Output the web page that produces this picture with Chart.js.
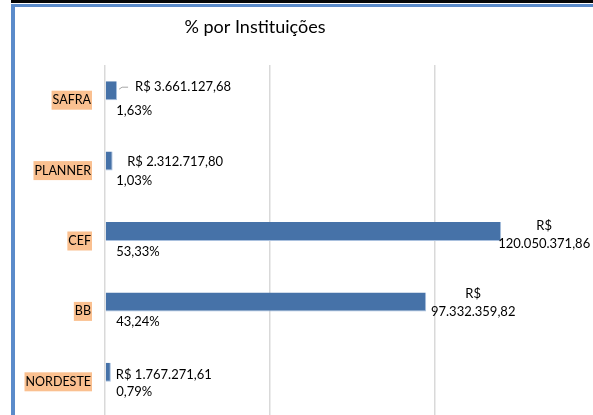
<!DOCTYPE html>
<html>
<head>
<meta charset="utf-8">
<script src="https://cdn.jsdelivr.net/npm/chart.js@4"></script>
<style>
  html,body{margin:0;padding:0;background:#fff;overflow:hidden;width:593px;height:415px;}
  #wrap{position:absolute;left:0;top:0;width:620px;height:440px;}
  .bd{position:absolute;z-index:5;}
</style>
</head>
<body>
<div id="wrap"><canvas id="c"></canvas></div>
<div class="bd" style="left:11px;top:0;right:0;height:3px;background:#050505;"></div>
<div class="bd" style="left:11px;top:4px;right:0;height:3px;background:#5B8BCA;"></div>
<div class="bd" style="left:11px;top:4px;width:4px;bottom:0;background:#5B8BCA;"></div>
<script>
// ---- data ----
const categories = ['SAFRA', 'PLANNER', 'CEF', 'BB', 'NORDESTE'];
const amounts = [3661127.68, 2312717.80, 120050371.86, 97332359.82, 1767271.61];
const percents = [1.63, 1.03, 53.33, 43.24, 0.79];
const axisTicks = [0, 50000000, 100000000, 150000000];
const chartTitle = '% por Instituições';

// ---- label layout (offsets relative to bar end / bar centre) ----
const amountLabelLayout = [
  {align:'left', dx:18, dy:[-3.5], split:false, leader:true},
  {align:'left', dx:14.5, dy:[1], split:false},
  {align:'center', dx:43, dy:[-5.5, 12.5], split:true},
  {align:'center', dx:47, dy:[-8, 10], split:true},
  {align:'left', dx:5, dy:[2.5], split:false}
];

function fmtBRL(v){
  const parts = v.toFixed(2).split('.');
  const intPart = parts[0].replace(/\B(?=(\d{3})+(?!\d))/g, '.');
  return 'R$ ' + intPart + ',' + parts[1];
}
function fmtPct(v){ return v.toFixed(2).replace('.', ',') + '%'; }

const FONT = 'Lato';
Chart.defaults.font.family = FONT;
Chart.defaults.color = '#000';

const labelPlugin = {
  id: 'labels',
  afterDatasetsDraw(chart){
    const ctx = chart.ctx;
    ctx.save();
    ctx.fillStyle = '#000';
    ctx.font = '13px ' + FONT;
    ctx.textBaseline = 'middle';
    const m0 = chart.getDatasetMeta(0);
    m0.data.forEach((bar, i) => {
      const L = amountLabelLayout[i];
      const txt = fmtBRL(amounts[i]);
      const lines = L.split ? ['R$', txt.slice(3)] : [txt];
      ctx.textAlign = L.align;
      lines.forEach((ln, k) => {
        ctx.fillText(ln, bar.x + L.dx, bar.y + L.dy[k]);
      });
      if (L.leader){
        ctx.strokeStyle = '#A6A6A6';
        ctx.lineWidth = 1;
        ctx.beginPath();
        ctx.moveTo(bar.x + 2, bar.y - 1.5);
        ctx.lineTo(bar.x + 5, bar.y - 3.5);
        ctx.lineTo(bar.x + 11, bar.y - 3.5);
        ctx.stroke();
      }
    });
    const m1 = chart.getDatasetMeta(1);
    ctx.textAlign = 'left';
    m1.data.forEach((bar, i) => {
      ctx.fillText(fmtPct(percents[i]), bar.base + 10.5, bar.y + 1);
    });
    // title
    ctx.font = '18px ' + FONT;
    ctx.textAlign = 'center';
    ctx.fillText(chartTitle, 255, 27);
    ctx.restore();
  }
};

new Chart(document.getElementById('c'), {
  type: 'bar',
  data: {
    labels: categories,
    datasets: [
      {data: amounts, backgroundColor: '#4672A8', borderColor: '#A9C0DE', borderWidth: {right:1,bottom:1}, barPercentage: 1, categoryPercentage: 0.54},
      {data: percents, backgroundColor: 'rgba(0,0,0,0)', borderWidth: 0, barPercentage: 1, categoryPercentage: 0.54}
    ]
  },
  plugins: [labelPlugin],
  options: {
    indexAxis: 'y',
    responsive: true,
    maintainAspectRatio: false,
    animation: false,
    layout: {padding: {left: 0, right: 20, top: 65, bottom: 23}},
    plugins: {legend: {display: false}, tooltip: {enabled: false}, title: {display: false}},
    scales: {
      x: {
        min: axisTicks[0], max: axisTicks[axisTicks.length - 1],
        afterBuildTicks(s){ s.ticks = axisTicks.map(v => ({value: v})); },
        afterFit(s){ s.height = 0; },
        ticks: {display: false},
        border: {display: false},
        grid: {color: '#D9D9D9', lineWidth: 1.5, drawTicks: false}
      },
      y: {
        afterFit(s){ s.width = 105; },
        grid: {display: false, drawTicks: false},
        border: {display: false},
        ticks: {
          font: {size: 12.5},
          color: '#000',
          padding: 14,
          showLabelBackdrop: true,
          backdropColor: '#FAC090',
          backdropPadding: {x: 1, y: 2}
        }
      }
    }
  }
});
</script>
</body>
</html>
